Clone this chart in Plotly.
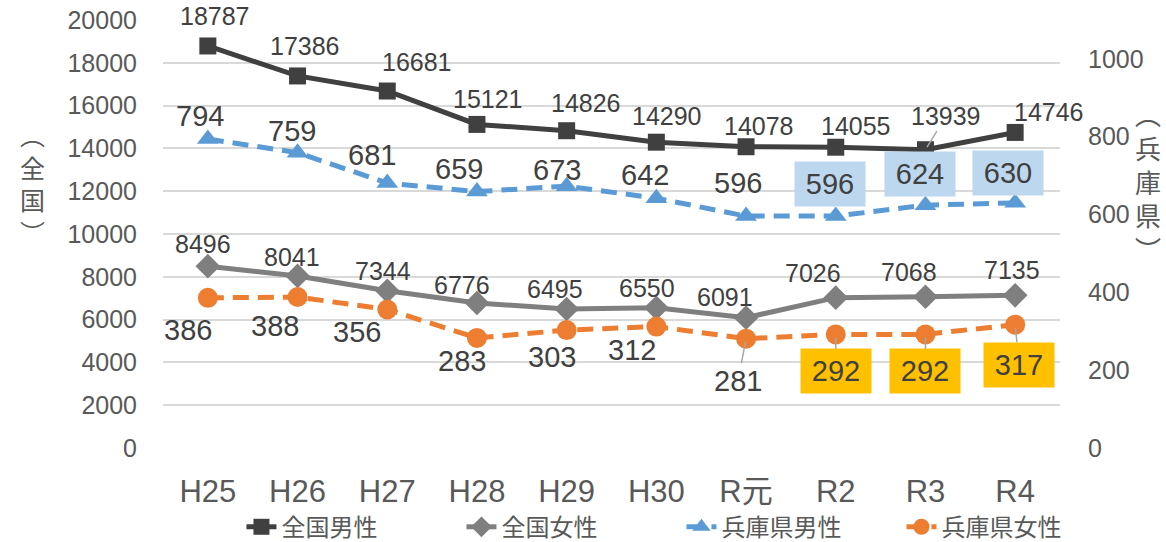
import plotly.graph_objects as go

# ---------------- data ----------------
categories = ["H25", "H26", "H27", "H28", "H29", "H30", "R元", "R2", "R3", "R4"]
zenkoku_male = [18787, 17386, 16681, 15121, 14826, 14290, 14078, 14055, 13939, 14746]
zenkoku_female = [8496, 8041, 7344, 6776, 6495, 6550, 6091, 7026, 7068, 7135]
hyogo_male = [794, 759, 681, 659, 673, 642, 596, 596, 624, 630]
hyogo_female = [386, 388, 356, 283, 303, 312, 281, 292, 292, 317]

left_ticks = list(range(0, 20001, 2000))
right_ticks = list(range(0, 1001, 200))

series_names = ["全国男性", "全国女性", "兵庫県男性", "兵庫県女性"]
left_title = "︵<br>全<br>国<br>︶"
right_title = "︵<br>兵<br>庫<br>県<br>︶"

# ---------------- label placement (pixel offsets, styles) ----------------
zm_off = [(7, -30), (7, -30), (30, -29), (11, -25), (19, -28), (11, -26), (13, -21), (20, -21), (21, -34), (34, -20)]
zm_leader = [False] * 8 + [True, False]
zf_off = [(-5, -22), (-6, -19), (-4, -20), (-15, -18), (-12, -20), (-9, -20), (-21, -21), (-23, -25), (-16, -25), (-3, -25)]
hm_off = [(-8, -23), (-6, -22), (-15, -28), (-18, -23), (-10, -16), (-11, -23), (-8, -33), (-6, -32), (-5, -31), (-7, -30)]
hm_box = [False] * 7 + [True] * 3
hf_off = [(-20, 32), (-23, 29), (-30, 23), (-15, 23), (-15, 27), (-24, 23), (-8, 42), (0, 37), (0, 37), (4, 40)]
hf_leader = [False] * 6 + [True] * 4
hf_box = [False] * 7 + [True] * 3

FONT = "Liberation Sans, Arial, Noto Sans CJK JP, sans-serif"
CJK = "Noto Sans CJK JP, Liberation Sans, sans-serif"

fig = go.Figure()
fig.add_trace(go.Scatter(x=categories, y=zenkoku_male, name=series_names[0], mode="lines+markers",
                         line=dict(color="#404040", width=5),
                         marker=dict(symbol="square", size=17, color="#404040"), yaxis="y"))
fig.add_trace(go.Scatter(x=categories, y=zenkoku_female, name=series_names[1], mode="lines+markers",
                         line=dict(color="#7F7F7F", width=5),
                         marker=dict(symbol="diamond", size=19, color="#7F7F7F"), yaxis="y"))
fig.add_trace(go.Scatter(x=categories, y=hyogo_male, name=series_names[2], mode="lines+markers",
                         line=dict(color="#5B9BD5", width=5, dash="16px,9px"),
                         marker=dict(symbol="triangle-up", size=19, color="#5B9BD5"), yaxis="y2"))
fig.add_trace(go.Scatter(x=categories, y=hyogo_female, name=series_names[3], mode="lines+markers",
                         line=dict(color="#ED7D31", width=5, dash="16px,9px"),
                         marker=dict(symbol="circle", size=20, color="#ED7D31"), yaxis="y2"))

annotations = []


def add_labels(values, yref, offsets, size, leaders=None, boxes=None, boxcolor=None):
    for i, (cat, v) in enumerate(zip(categories, values)):
        dx, dy = offsets[i]
        leader = leaders[i] if leaders else False
        box = boxes[i] if boxes else False
        a = dict(x=cat, y=v, xref="x", yref=yref, text=str(v),
                 font=dict(family=FONT, size=size, color="#404040"))
        if box:
            a.update(bgcolor=boxcolor, width=66, height=40, borderpad=2)
        if leader:
            a.update(showarrow=True, ax=dx, ay=dy, arrowhead=0, arrowwidth=1.5,
                     arrowcolor="#A6A6A6", standoff=3)
        else:
            a.update(showarrow=False, xshift=dx, yshift=-dy)
        annotations.append(a)


add_labels(zenkoku_male, "y", zm_off, 25, leaders=zm_leader)
add_labels(zenkoku_female, "y", zf_off, 25)
add_labels(hyogo_male, "y2", hm_off, 29, boxes=hm_box, boxcolor="#BDD7EE")
add_labels(hyogo_female, "y2", hf_off, 29, leaders=hf_leader, boxes=hf_box, boxcolor="#FFC000")

annotations.append(dict(text=left_title, xref="paper", yref="paper", x=-0.146, y=0.619,
                        showarrow=False, xanchor="center", yanchor="middle",
                        font=dict(family=CJK, size=25, color="#595959")))
annotations.append(dict(text=right_title, xref="paper", yref="paper", x=1.098, y=0.625,
                        showarrow=False, xanchor="center", yanchor="middle",
                        font=dict(family=CJK, size=26, color="#595959")))

fig.update_layout(
    width=1166, height=542,
    margin=dict(l=163, r=106, t=20, b=94, autoexpand=False),
    paper_bgcolor="white", plot_bgcolor="white",
    font=dict(family=FONT, color="#595959"),
    showlegend=True,
    legend=dict(orientation="h", x=0.578, xanchor="center", y=-0.185, yanchor="middle",
                font=dict(family=CJK, size=24, color="#595959"), entrywidth=175,
                bgcolor="rgba(0,0,0,0)"),
    xaxis=dict(type="category", range=[-0.5, len(categories) - 0.5],
               showgrid=False, showline=False, zeroline=False,
               automargin=False,
               ticks="outside", ticklen=16, tickcolor="rgba(0,0,0,0)",
               tickfont=dict(family=FONT, size=31, color="#595959")),
    yaxis=dict(range=[0, 20000], tickvals=left_ticks, ticktext=[str(t) for t in left_ticks],
               automargin=False,
               showgrid=True, gridcolor="#D9D9D9", gridwidth=1.5, zeroline=False, showline=False,
               ticks="outside", ticklen=20, tickcolor="rgba(0,0,0,0)",
               tickfont=dict(family=FONT, size=25, color="#595959")),
    yaxis2=dict(range=[0, 1100], tickvals=right_ticks, ticktext=[str(t) for t in right_ticks],
                automargin=False,
                overlaying="y", side="right", showgrid=False, zeroline=False, showline=False,
                ticks="outside", ticklen=22, tickcolor="rgba(0,0,0,0)",
                tickfont=dict(family=FONT, size=25, color="#595959")),
    annotations=annotations,
)

fig.write_html("out.html", config={"displayModeBar": False},
               post_script="document.body.style.margin='0';document.body.style.overflow='hidden';")
